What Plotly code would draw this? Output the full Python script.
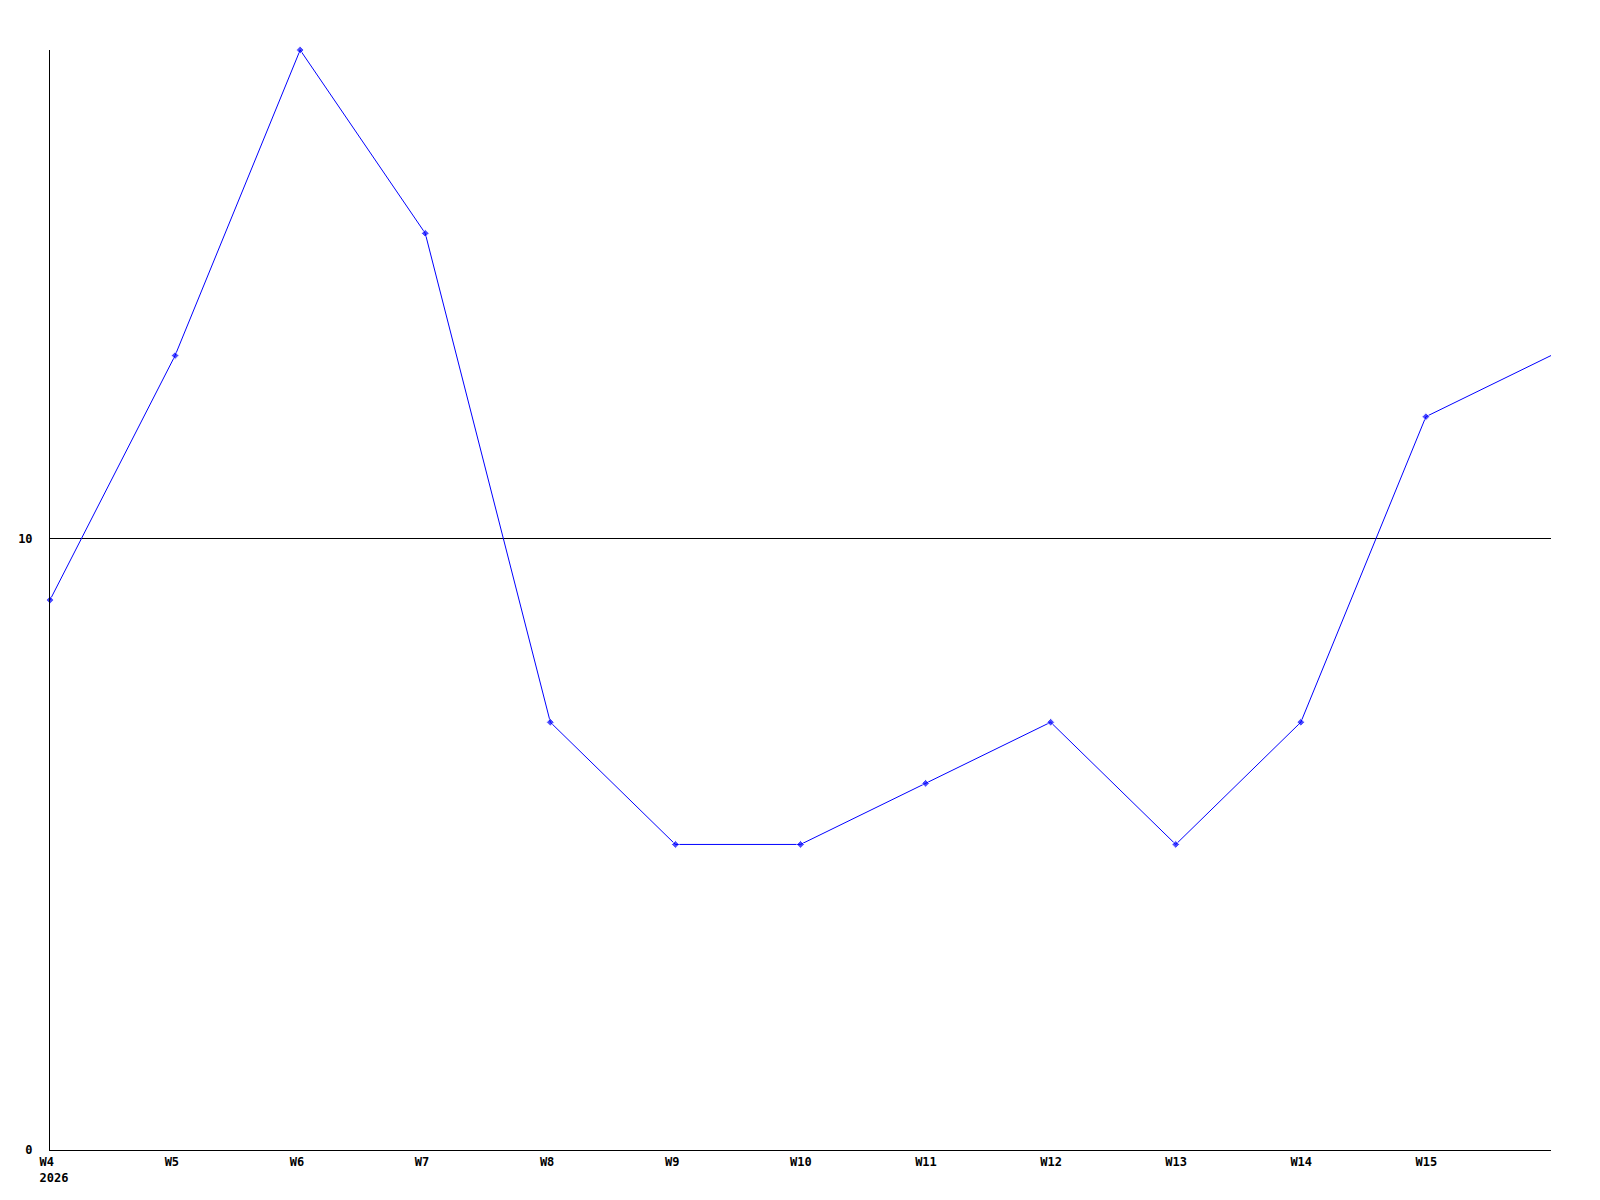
"""Weekly count line chart, weeks W4-W16 of 2026."""
import plotly.graph_objects as go

NBSP = "\u00a0"

# Week index along the x axis (W4 .. W16)
weeks = ["W4", "W5", "W6", "W7", "W8", "W9", "W10", "W11", "W12", "W13", "W14", "W15", "W16"]
values = [9, 13, 18, 15, 7, 5, 5, 6, 7, 5, 7, 12, 13]
year_label = "2026"
y_ticks = [0, 10]

x = list(range(len(weeks)))

# Labels are left aligned in the original, so pad them to a common width
tick_text = []
for i, w in enumerate(weeks[:-1]):
    padded = w + NBSP * (4 - len(w))
    if i == 0:
        padded += "<br>" + year_label
    tick_text.append(padded)

# last point sits on the right edge, no marker drawn there
marker_sizes = [6] * (len(values) - 1) + [0]

fig = go.Figure()
fig.add_trace(go.Scatter(
    x=x,
    y=values,
    mode="lines+markers",
    line={"color": "#0000ff", "width": 1},
    marker={"color": "#0000ff", "size": marker_sizes, "symbol": "diamond"},
    showlegend=False,
    cliponaxis=False,
))

font = {"family": "DejaVu Sans Mono", "size": 12, "color": "black", "weight": "bold"}

# the page body adds an 8px offset, margins compensate for it
fig.update_layout(
    width=1600,
    height=1200,
    paper_bgcolor="white",
    plot_bgcolor="white",
    margin={"l": 42, "r": 57, "t": 42, "b": 58},
    font=font,
)

fig.update_xaxes(
    range=[0, len(weeks) - 1],
    tickmode="array",
    tickvals=x[:-1],
    ticktext=tick_text,
    tickfont=font,
    ticklabelshift=4,
    ticklabelstandoff=1,
    showgrid=False,
    zeroline=False,
    showline=True,
    linecolor="black",
    linewidth=1,
    ticks="",
    automargin=False,
)

fig.update_yaxes(
    range=[0, 18],
    tickmode="array",
    tickvals=y_ticks,
    ticktext=[str(v) for v in y_ticks],
    tickfont=font,
    showgrid=True,
    gridcolor="black",
    gridwidth=1,
    zeroline=False,
    showline=True,
    linecolor="black",
    linewidth=1,
    ticks="",
    ticklabelstandoff=14,
    automargin=False,
)

fig.write_html("out.html")
